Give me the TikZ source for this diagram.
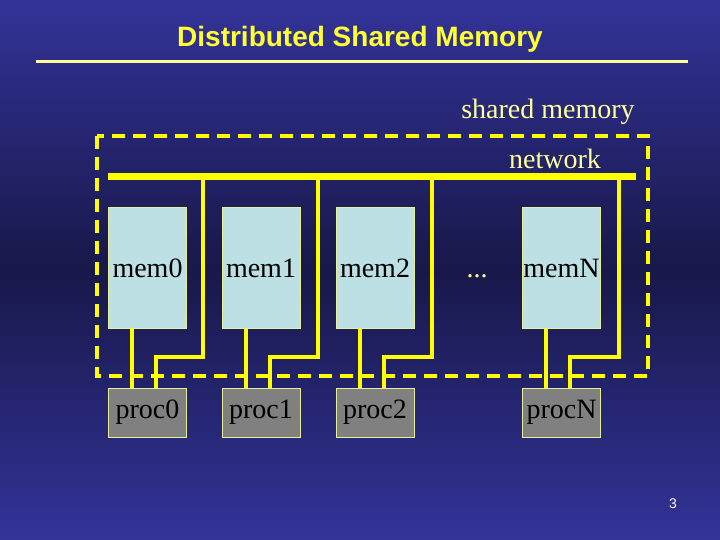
\documentclass[tikz,border=0pt]{standalone}
\usepackage{fontspec}
\setmainfont{Liberation Serif}
\newfontfamily\titlefont{Liberation Sans}
\usetikzlibrary{calc}
\definecolor{bgtop}{RGB}{51,51,153}
\definecolor{bgmid}{RGB}{24,24,74}
\definecolor{ylw}{RGB}{255,255,0}
\definecolor{ttl}{RGB}{255,255,51}
\definecolor{pale}{RGB}{255,255,153}
\definecolor{memfill}{RGB}{188,224,227}
\definecolor{procfill}{RGB}{128,128,128}
\definecolor{edge}{RGB}{230,240,150}
\tikzset{
  membox/.style={draw=edge, line width=1pt, fill=memfill, minimum width=78pt, minimum height=120pt, inner sep=0pt, font=\fontsize{28}{30}\selectfont},
  procbox/.style={draw=edge, line width=1pt, fill=procfill, minimum width=78pt, minimum height=49pt, inner sep=0pt, font=\fontsize{28}{30}\selectfont},
  wire/.style={draw=ylw, line width=4pt},
  bus/.style={draw=ylw, line width=7pt},
  lbl/.style={text=pale, font=\fontsize{28}{30}\selectfont, inner sep=0pt}
}
\begin{document}
\begin{tikzpicture}[x=1pt,y=-1pt]
\shade[top color=bgtop, bottom color=bgtop, middle color=bgmid] (0,0) rectangle (720,540);
\useasboundingbox (0,0) rectangle (720,540);
% title
\node[text=ttl, font=\titlefont\bfseries\fontsize{28}{30}\selectfont, inner sep=0pt] (title) at (360,39) {Distributed Shared Memory};
\coordinate (ruleL) at (36,62);
\coordinate (ruleR) at (688,62);
\draw[draw=pale, line width=3pt] (ruleL) -- (ruleR);
% labels
\node[lbl] (sm) at (548,112) {shared memory};
\node[lbl] (net) at (555,159) {network};
% dashed boundary
\draw[draw=ylw, line width=4.5pt, dash pattern=on 13pt off 8pt] (97,136) rectangle (648,376);
% bus
\coordinate (busL) at (108,177);
\coordinate (busR) at (636,177);
% boxes
\node[membox] (mem0) at (147.5,268) {mem0};
\node[membox] (mem1) at (261,268) {mem1};
\node[membox] (mem2) at (375,268) {mem2};
\node[membox] (memN) at (561.5,268) {memN};
\node[lbl, anchor=base] (dots) at (477,277) {...};
\node[procbox] (proc0) at (147.5,412.5) {proc0};
\node[procbox] (proc1) at (261,412.5) {proc1};
\node[procbox] (proc2) at (375,412.5) {proc2};
\node[procbox] (procN) at (561.5,412.5) {procN};
% bus drops
\coordinate (d0) at (203,177);
\coordinate (d1) at (318,177);
\coordinate (d2) at (432,177);
\coordinate (dN) at (619,177);
\foreach \m/\d in {0/0,1/1,2/2,N/N}{
  \draw[wire] ($(mem\m.south west)+(24,0)$) -- ($(proc\m.north west)+(24,0)$);
  \draw[wire, line join=miter] (d\d) -- ($(d\d)+(0,180)$) -| ($(proc\m.north west)+(48,0)$);
}
\draw[bus] (busL) -- (busR);
\node[text=white, font=\titlefont\fontsize{14}{16}\selectfont, inner sep=0pt] (pg) at (673,504) {3};
\end{tikzpicture}
\end{document}
